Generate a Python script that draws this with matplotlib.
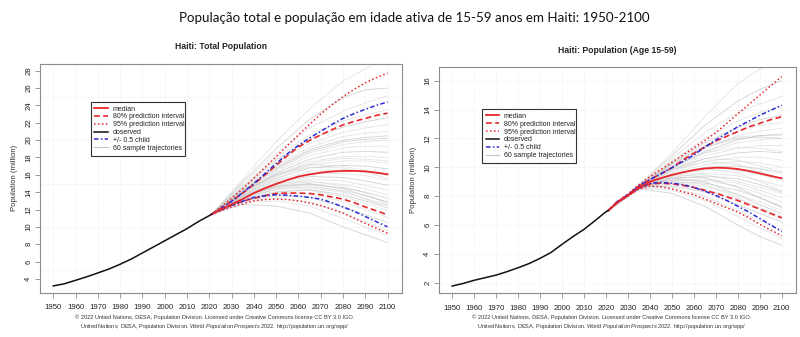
import matplotlib
matplotlib.use("Agg")
import matplotlib.pyplot as plt
from matplotlib.patches import Rectangle
from matplotlib.transforms import Bbox

plt.rcParams['font.family'] = ['Liberation Sans', 'DejaVu Sans']
plt.rcParams['mathtext.fontset'] = 'custom'
plt.rcParams['mathtext.rm'] = 'Liberation Sans'
plt.rcParams['mathtext.it'] = 'Liberation Sans:italic'

#%% Dados

obs_years = [1950, 1955, 1960, 1965, 1970, 1975, 1980, 1985, 1990, 1995,
             2000, 2005, 2010, 2015, 2020, 2021]
proj_years = [2021, 2025, 2030, 2035, 2040, 2045, 2050, 2055, 2060,
              2065, 2070, 2075, 2080, 2085, 2090, 2095, 2100]
traj_years = [2021, 2035, 2050, 2065, 2080, 2090, 2100]

# População total (milhões)
tot_obs = [3.2, 3.45, 3.85, 4.25, 4.7, 5.15, 5.7, 6.3, 7.0, 7.7,
           8.4, 9.1, 9.8, 10.6, 11.3, 11.45]
tot_median = [11.45, 12.0, 12.6, 13.2, 13.9, 14.45, 14.95, 15.4, 15.8,
              16.05, 16.25, 16.38, 16.45, 16.45, 16.4, 16.25, 16.07]
tot_80_up = [11.45, 12.1, 12.95, 13.9, 14.9, 16.0, 17.1, 18.2, 19.2,
             19.95, 20.6, 21.2, 21.75, 22.15, 22.5, 22.85, 23.1]
tot_80_lo = [11.45, 11.95, 12.5, 12.95, 13.3, 13.6, 13.85, 13.9, 13.9,
             13.85, 13.7, 13.45, 13.2, 12.8, 12.3, 11.85, 11.4]
tot_95_up = [11.45, 12.25, 13.3, 14.4, 15.6, 16.85, 18.1, 19.35, 20.6,
             21.8, 23.0, 24.05, 25.0, 25.85, 26.6, 27.2, 27.7]
tot_95_lo = [11.45, 11.85, 12.3, 12.65, 13.0, 13.15, 13.2, 13.15, 13.0,
             12.75, 12.45, 12.05, 11.6, 11.0, 10.4, 9.85, 9.27]
tot_child_up = [11.45, 12.1, 12.95, 13.95, 15.0, 16.15, 17.3, 18.4, 19.4,
                20.25, 21.0, 21.8, 22.5, 23.05, 23.55, 24.0, 24.4]
tot_child_lo = [11.45, 11.95, 12.5, 12.95, 13.4, 13.6, 13.7, 13.65, 13.55,
                13.4, 13.2, 12.8, 12.3, 11.8, 11.2, 10.6, 10.0]
tot_traj = [
    [11.45, 12.6, 12.4, 11.6, 10.0, 9.1, 8.2],
    [11.45, 12.8, 13.0, 12.4, 11.0, 10.0, 9.0],
    [11.45, 12.9, 13.3, 12.9, 11.6, 10.6, 9.6],
    [11.45, 13.0, 13.6, 13.4, 12.3, 11.4, 10.5],
    [11.45, 13.1, 13.9, 13.8, 12.9, 12.0, 11.1],
    [11.45, 13.2, 14.1, 14.2, 13.5, 12.7, 11.9],
    [11.45, 13.0, 14.0, 14.3, 13.7, 13.0, 12.2],
    [11.45, 13.3, 14.3, 14.5, 14.0, 13.3, 12.5],
    [11.45, 13.2, 14.4, 14.6, 14.2, 13.6, 12.8],
    [11.45, 13.4, 14.6, 14.9, 14.5, 14.0, 13.3],
    [11.45, 13.4, 14.8, 15.2, 14.9, 14.4, 13.7],
    [11.45, 13.5, 14.9, 15.5, 15.3, 14.8, 14.2],
    [11.45, 13.6, 15.1, 15.8, 15.7, 15.3, 14.8],
    [11.45, 13.7, 15.3, 16.1, 16.2, 15.9, 15.4],
    [11.45, 13.7, 15.4, 16.4, 16.6, 16.4, 16.0],
    [11.45, 13.8, 15.6, 16.8, 17.1, 17.0, 16.7],
    [11.45, 13.9, 15.8, 17.1, 17.6, 17.6, 17.4],
    [11.45, 14.0, 16.0, 17.5, 18.1, 18.1, 18.0],
    [11.45, 14.0, 16.2, 17.8, 18.6, 18.7, 18.6],
    [11.45, 14.1, 16.4, 18.2, 19.1, 19.3, 19.3],
    [11.45, 14.2, 16.6, 18.5, 19.5, 19.8, 20.0],
    [11.45, 14.3, 16.9, 18.9, 20.0, 20.3, 20.5],
    [11.45, 14.4, 17.1, 19.2, 20.4, 20.8, 21.0],
    [11.45, 14.5, 17.4, 19.6, 20.9, 21.4, 21.8],
    [11.45, 14.6, 17.7, 20.1, 21.5, 22.1, 22.6],
    [11.45, 14.8, 18.0, 20.6, 22.2, 22.9, 23.5],
    [11.45, 15.0, 18.5, 21.4, 23.3, 24.3, 25.1],
    [11.45, 15.2, 19.0, 22.4, 24.9, 25.8, 26.0],
    [11.45, 15.5, 19.8, 23.6, 26.8, 28.2, 29.5],
    [11.45, 14.1, 16.0, 16.9, 16.8, 16.3, 15.6],
    [11.45, 13.5, 14.7, 15.0, 14.4, 13.6, 12.9],
    [11.45, 13.6, 15.0, 15.3, 14.7, 13.9, 12.6],
    [11.45, 13.9, 15.9, 17.3, 17.9, 17.8, 17.6],
    [11.45, 14.2, 16.7, 18.7, 19.8, 20.1, 20.2],
    [11.45, 14.0, 16.1, 17.2, 17.0, 16.5, 15.9],
    [11.45, 13.3, 14.5, 14.8, 14.1, 13.2, 12.4],
]

# População 15-59 anos (milhões)
wa_obs = [1.77, 1.95, 2.17, 2.35, 2.53, 2.77, 3.04, 3.33, 3.69, 4.1,
          4.66, 5.2, 5.7, 6.3, 6.92, 7.0]
wa_median = [7.0, 7.55, 8.05, 8.6, 9.0, 9.25, 9.47, 9.65, 9.81,
             9.92, 9.97, 9.95, 9.88, 9.75, 9.58, 9.4, 9.24]
wa_80_up = [7.0, 7.6, 8.1, 8.7, 9.15, 9.55, 9.97, 10.5, 10.97,
            11.4, 11.82, 12.15, 12.47, 12.8, 13.05, 13.3, 13.5]
wa_80_lo = [7.0, 7.55, 8.05, 8.55, 8.85, 8.9, 8.85, 8.75, 8.6,
            8.4, 8.2, 7.95, 7.7, 7.4, 7.1, 6.8, 6.5]
wa_95_up = [7.0, 7.6, 8.15, 8.8, 9.35, 9.85, 10.35, 10.85, 11.35,
            11.85, 12.4, 13.05, 13.7, 14.35, 15.0, 15.65, 16.28]
wa_95_lo = [7.0, 7.5, 8.0, 8.5, 8.7, 8.65, 8.5, 8.3, 8.1,
            7.8, 7.5, 7.2, 6.9, 6.5, 6.05, 5.65, 5.25]
wa_child_up = [7.0, 7.6, 8.1, 8.7, 9.15, 9.55, 9.97, 10.4, 10.85,
               11.4, 11.9, 12.35, 12.8, 13.2, 13.6, 13.95, 14.3]
wa_child_lo = [7.0, 7.55, 8.05, 8.55, 8.9, 8.95, 8.9, 8.8, 8.6,
               8.35, 8.05, 7.7, 7.3, 6.9, 6.45, 6.0, 5.55]
wa_traj = [
    [7.0, 8.5, 8.2, 7.3, 6.0, 5.2, 4.6],
    [7.0, 8.55, 8.4, 7.7, 6.6, 5.8, 5.1],
    [7.0, 8.55, 8.6, 8.0, 7.0, 6.3, 5.7],
    [7.0, 8.6, 8.7, 8.3, 7.4, 6.8, 6.2],
    [7.0, 8.6, 8.8, 8.5, 7.8, 7.2, 6.6],
    [7.0, 8.6, 8.9, 8.7, 8.1, 7.6, 7.0],
    [7.0, 8.6, 9.0, 8.9, 8.4, 7.9, 7.3],
    [7.0, 8.6, 9.1, 9.1, 8.7, 8.2, 7.6],
    [7.0, 8.6, 9.1, 9.2, 8.9, 8.4, 7.9],
    [7.0, 8.6, 9.2, 9.4, 9.2, 8.8, 8.3],
    [7.0, 8.6, 9.3, 9.6, 9.4, 9.1, 8.7],
    [7.0, 8.6, 9.4, 9.8, 9.8, 9.5, 9.1],
    [7.0, 8.6, 9.5, 10.0, 10.1, 9.9, 9.6],
    [7.0, 8.6, 9.6, 10.2, 10.4, 10.3, 10.0],
    [7.0, 8.65, 9.7, 10.4, 10.7, 10.7, 10.5],
    [7.0, 8.65, 9.8, 10.6, 11.0, 11.1, 11.0],
    [7.0, 8.65, 9.9, 10.8, 11.3, 11.5, 11.5],
    [7.0, 8.65, 10.0, 11.0, 11.7, 11.9, 12.0],
    [7.0, 8.65, 10.0, 11.1, 11.9, 12.2, 12.3],
    [7.0, 8.7, 10.1, 11.3, 12.2, 12.5, 12.7],
    [7.0, 8.7, 10.2, 11.5, 12.5, 12.9, 13.1],
    [7.0, 8.7, 10.3, 11.7, 12.8, 13.3, 13.6],
    [7.0, 8.7, 10.4, 12.0, 13.2, 13.8, 14.2],
    [7.0, 8.7, 10.6, 12.4, 13.8, 14.4, 14.9],
    [7.0, 8.75, 10.8, 12.9, 14.6, 15.4, 16.0],
    [7.0, 8.75, 11.0, 13.5, 15.8, 16.8, 17.5],
    [7.0, 8.6, 9.4, 9.5, 9.0, 8.6, 8.2],
    [7.0, 8.6, 9.2, 9.0, 8.1, 7.4, 6.8],
    [7.0, 8.65, 9.9, 10.6, 10.5, 10.1, 9.7],
    [7.0, 8.7, 10.3, 11.5, 12.1, 12.2, 12.2],
    [7.0, 8.6, 9.3, 9.3, 8.6, 7.9, 7.2],
    [7.0, 8.6, 9.5, 9.9, 9.6, 9.0, 8.4],
    [7.0, 8.65, 10.0, 11.0, 11.4, 11.3, 11.1],
    [7.0, 8.7, 10.2, 11.4, 12.0, 12.1, 12.0],
    [7.0, 8.6, 9.0, 8.8, 7.9, 7.1, 6.4],
    [7.0, 8.65, 9.8, 10.4, 10.2, 9.7, 9.2],
]

decades = list(range(1950, 2101, 10))
credit1 = ("\u00a9 2022 United Nations, DESA, Population Division. "
           "Licensed under Creative Commons license CC BY 3.0 IGO.")
credit2 = (r"United Nations, DESA, Population Division. "
           r"$\it{World\ Population\ Prospects\ 2022}$"
           r". http://population.un.org/wpp/")

RED = '#e8262b'
BLUE = '#2b2bd8'
GREY = '#c4c4c4'
AXC = '#8c8c8c'
DOT = (0, (1, 1.6))
DASH = (0, (3.5, 2))
DASHDOT = (0, (3, 1.5, 1, 1.5))

#%% Gráficos

fig = plt.figure(figsize=(8, 3.37), dpi=100)
fig.text(0.518, 0.946, 'População total e população em idade ativa de 15-59 anos em Haiti: 1950-2100',
         ha='center', va='center', fontsize=9.6, family=['Lato', 'DejaVu Sans'], color='#111111')


def painel(rect, titulo, tit_xy, obs, traj, med, p80u, p80l, p95u, p95l, cu, cl,
           ylim, yticks, ygrid, leg_anchor, cred_x):
    ax = fig.add_axes(rect)
    for v in decades:
        ax.axvline(v, color='#e4e4e4', lw=0.5, ls=':', zorder=0)
    for v in ygrid:
        ax.axhline(v, color='#e4e4e4', lw=0.5, ls=':', zorder=0)

    for i, t in enumerate(traj):
        ax.plot(traj_years, t, color=GREY, lw=0.6, alpha=0.45 if i % 3 else 0.75, zorder=1)
    ax.plot(proj_years, p95u, color=RED, lw=1.1, ls=DOT, zorder=3)
    ax.plot(proj_years, p95l, color=RED, lw=1.1, ls=DOT, zorder=3)
    ax.plot(proj_years, p80u, color=RED, lw=1.2, ls=DASH, zorder=3)
    ax.plot(proj_years, p80l, color=RED, lw=1.2, ls=DASH, zorder=3)
    ax.plot(proj_years, cu, color=BLUE, lw=1.1, ls=DASHDOT, zorder=4)
    ax.plot(proj_years, cl, color=BLUE, lw=1.1, ls=DASHDOT, zorder=4)
    ax.plot(proj_years, med, color=RED, lw=1.3, zorder=4)
    ax.plot(obs_years, obs, color='#111111', lw=1.1, zorder=5)

    ax.set_xlim(1944, 2106.5)
    ax.set_ylim(*ylim)
    ax.set_xticks(decades)
    ax.set_yticks(yticks)
    ax.set_yticklabels([str(v) for v in yticks], rotation=90, va='center')
    ax.tick_params(axis='both', length=3.5, width=0.6, color=AXC, labelsize=5.6,
                   labelcolor='#222222', pad=2)
    ax.tick_params(axis='x', pad=5)
    for s in ax.spines.values():
        s.set_color(AXC)
        s.set_linewidth(0.8)
    ax.set_ylabel('Population (million)', fontsize=5.6, color='#333333', labelpad=5)

    fig.text(tit_xy[0], tit_xy[1], titulo, ha='center', va='center', fontsize=6.2,
             fontweight='bold', color='#222222')

    handles = [
        plt.Line2D([], [], color=RED, lw=1.3),
        plt.Line2D([], [], color=RED, lw=1.2, ls=DASH),
        plt.Line2D([], [], color=RED, lw=1.1, ls=DOT),
        plt.Line2D([], [], color='#111111', lw=1.1),
        plt.Line2D([], [], color=BLUE, lw=1.1, ls=DASHDOT),
        plt.Line2D([], [], color=GREY, lw=0.8),
    ]
    labels = ['median', '80% prediction interval', '95% prediction interval',
              'observed', '+/- 0.5 child', '60 sample trajectories']
    leg = ax.legend(handles, labels, loc='upper left', bbox_to_anchor=leg_anchor,
                    fontsize=5.0, frameon=False, handlelength=1.9, handletextpad=0.7,
                    labelspacing=0.12, borderpad=0.55, borderaxespad=0)
    leg.set_zorder(7)
    for t in leg.get_texts():
        t.set_color('#222222')

    fig.text(cred_x, 0.058, credit1, ha='center', va='center', fontsize=4.1, color='#333333')
    fig.text(cred_x, 0.030, credit2, ha='center', va='center', fontsize=4.1, color='#333333')
    return ax, leg


ax1, leg1 = painel([0.05, 0.1315, 0.4525, 0.6786], 'Haiti: Total Population', (0.276, 0.861),
                   tot_obs, tot_traj, tot_median, tot_80_up, tot_80_lo, tot_95_up, tot_95_lo,
                   tot_child_up, tot_child_lo, (2.42, 28.77), list(range(4, 29, 2)),
                   [5, 10, 15, 20, 25], (0.14, 0.835), 0.268)
ax2, leg2 = painel([0.54875, 0.1306, 0.44625, 0.6706], 'Haiti: Population (Age 15-59)', (0.772, 0.849),
                   wa_obs, wa_traj, wa_median, wa_80_up, wa_80_lo, wa_95_up, wa_95_lo,
                   wa_child_up, wa_child_lo, (1.29, 16.95), list(range(2, 17, 2)),
                   list(range(2, 17, 2)), (0.12, 0.814), 0.765)

# caixa da legenda mais estreita que o texto: o texto fica cortado na borda
fig.canvas.draw()
for ax, leg in [(ax1, leg1), (ax2, leg2)]:
    bb = leg.get_window_extent()
    caixa = Bbox.from_extents(bb.x0, bb.y0, bb.x0 + 94, bb.y1)
    (x0, y0), (x1, y1) = ax.transAxes.inverted().transform(caixa.get_points())
    ax.add_patch(Rectangle((x0, y0), x1 - x0, y1 - y0, transform=ax.transAxes,
                           facecolor='white', edgecolor='#333333', lw=0.8,
                           zorder=6, clip_on=False))
    for t in leg.get_texts():
        t.set_clip_box(caixa)
        t.set_clip_on(True)

fig.savefig('out.png', dpi=100)
